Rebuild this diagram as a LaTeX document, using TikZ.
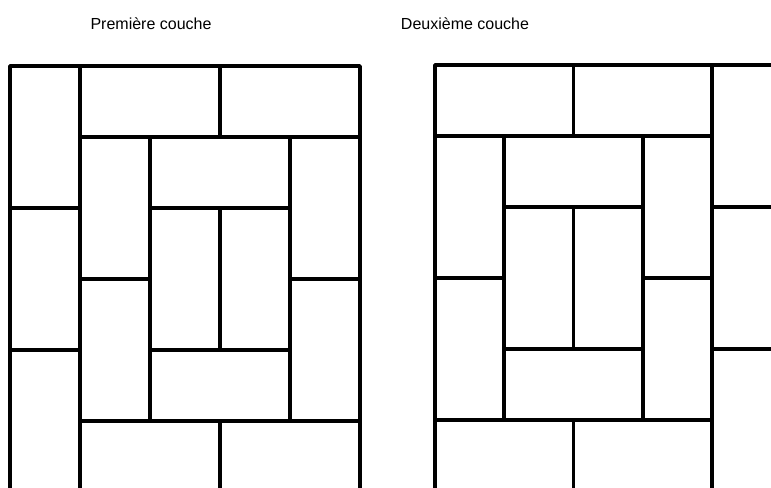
\documentclass[tikz,border=0pt]{standalone}
\usepackage{fontspec}
\setmainfont{Liberation Sans}

\tikzset{
  brick/.style={line width=2.7pt, line join=round},
  layertitle/.style={font=\fontsize{12}{14}\selectfont, inner sep=0pt}
}

\begin{document}
\begin{tikzpicture}[x=0.75pt,y=-0.75pt]
\clip (0,0) rectangle (771,488);
\fill[white] (0,0) rectangle (771,488);
% ---------- titles ----------
\node[layertitle] (titleone) at (151,24) {Première couche};
\node[layertitle] (titletwo) at (465,24) {Deuxième couche};
% ---------- first layer ----------
\begin{scope}[xshift=7.5pt, yshift=-49.5pt, x=52.5pt, y=-53.25pt]
% left column of upright bricks
\draw[brick] (0,0) rectangle (1,2);
\draw[brick] (0,2) rectangle (1,4);
\draw[brick] (0,4) rectangle (1,6);
% top course
\draw[brick] (1,0) rectangle (3,1);
\draw[brick] (3,0) rectangle (5,1);
% inner ring
\draw[brick] (1,1) rectangle (2,3);
\draw[brick] (1,3) rectangle (2,5);
\draw[brick] (2,1) rectangle (4,2);
\draw[brick] (4,1) rectangle (5,3);
\draw[brick] (4,3) rectangle (5,5);
\draw[brick] (2,4) rectangle (4,5);
% centre pair
\draw[brick] (2,2) rectangle (3,4);
\draw[brick] (3,2) rectangle (4,4);
% bottom course
\draw[brick] (1,5) rectangle (3,6);
\draw[brick] (3,5) rectangle (5,6);
\end{scope}
% ---------- second layer (mirrored) ----------
\begin{scope}[xshift=326.25pt, yshift=-48.75pt, x=51.94pt, y=-53.25pt]
% right column of upright bricks
\draw[brick] (4,0) rectangle (5,2);
\draw[brick] (4,2) rectangle (5,4);
\draw[brick] (4,4) rectangle (5,6);
% top course
\draw[brick] (0,0) rectangle (2,1);
\draw[brick] (2,0) rectangle (4,1);
% inner ring
\draw[brick] (0,1) rectangle (1,3);
\draw[brick] (0,3) rectangle (1,5);
\draw[brick] (1,1) rectangle (3,2);
\draw[brick] (3,1) rectangle (4,3);
\draw[brick] (3,3) rectangle (4,5);
\draw[brick] (1,4) rectangle (3,5);
% centre pair
\draw[brick] (1,2) rectangle (2,4);
\draw[brick] (2,2) rectangle (3,4);
% bottom course
\draw[brick] (0,5) rectangle (2,6);
\draw[brick] (2,5) rectangle (4,6);
\end{scope}
\end{tikzpicture}
\end{document}
